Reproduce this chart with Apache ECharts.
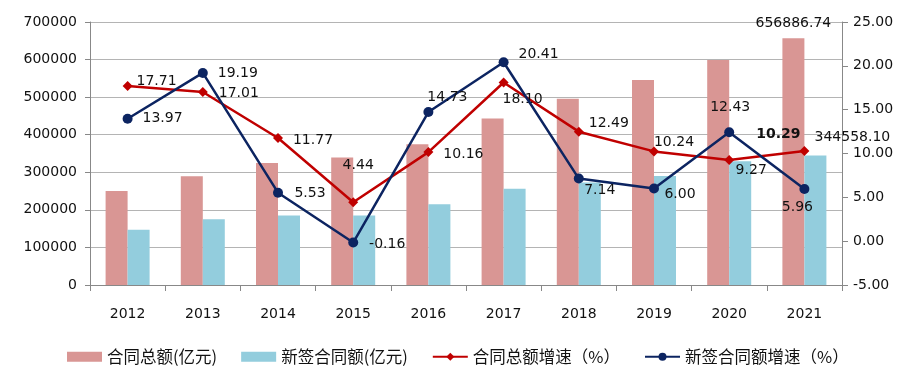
<!DOCTYPE html>
<html>
<head>
<meta charset="utf-8">
<script src="https://cdn.jsdelivr.net/npm/echarts@6/dist/echarts.min.js"></script>
<style>
html,body{margin:0;padding:0;background:#fff;}
#chart{width:924px;height:387px;}
</style>
</head>
<body>
<div id="chart"></div>
<script>
// ---- data ----
var years = ['2012','2013','2014','2015','2016','2017','2018','2019','2020','2021'];
var totalContract = [250200, 289300, 324800, 339200, 374700, 443200, 495500, 545300, 598700, 656886.74];
var newContract = [147200, 174700, 185300, 185300, 214700, 256500, 272900, 290100, 329300, 344558.10];
var totalGrowth = [17.71, 17.01, 11.77, 4.44, 10.16, 18.10, 12.49, 10.24, 9.27, 10.29];
var newGrowth = [13.97, 19.19, 5.53, -0.16, 14.73, 20.41, 7.14, 6.00, 12.43, 5.96];
var seriesNames = ['合同总额(亿元)', '新签合同额(亿元)', '合同总额增速（%）', '新签合同额增速（%）'];

// ---- label placement (style only) ----
var totalGrowthOffsets = [[29,-5],[36,1],[35,2],[5,-37],[35,2],[19,17],[30,-8],[20,-9],[22,10],[-26,-17]];
var newGrowthOffsets = [[35,0],[35,0],[32,1],[34,2],[19,-15],[35,-8],[21,12],[26,6],[1,-25],[-7,18]];

var FONT = 'DejaVu Sans';
var TXT = '#111';

function lineData(vals, offsets, boldIdx) {
  return vals.map(function (v, i) {
    return {
      value: v,
      label: {
        show: true,
        position: 'inside',
        offset: offsets[i],
        formatter: v.toFixed(2),
        fontWeight: i === boldIdx ? 'bold' : 'normal'
      }
    };
  });
}
function barData(vals, offset) {
  return vals.map(function (v, i) {
    var last = i === vals.length - 1;
    return {
      value: v,
      label: {
        show: last,
        position: 'top',
        distance: 5,
        offset: offset,
        formatter: v.toFixed(2)
      }
    };
  });
}

var chart = echarts.init(document.getElementById('chart'), null, {renderer: 'canvas'});
chart.setOption({
  animation: false,
  backgroundColor: '#fff',
  textStyle: {fontFamily: FONT, color: TXT},
  grid: {left: 90, right: 82, top: 22, bottom: 102, containLabel: false},
  legend: {
    bottom: 17,
    left: 62,
    itemWidth: 35,
    itemHeight: 10,
    itemGap: 24,
    textStyle: {fontFamily: 'Noto Sans CJK SC', fontSize: 16.5, color: TXT},
    data: [
      {name: seriesNames[0], icon: 'rect'},
      {name: seriesNames[1], icon: 'rect'},
      {name: seriesNames[2]},
      {name: seriesNames[3]}
    ]
  },
  xAxis: {
    type: 'category',
    data: years,
    boundaryGap: true,
    axisLine: {lineStyle: {color: '#888', width: 1}},
    axisTick: {show: true, length: 6, lineStyle: {color: '#888'}},
    axisLabel: {margin: 22, fontFamily: FONT, fontSize: 14, color: TXT}
  },
  yAxis: [
    {
      type: 'value',
      min: 0, max: 700000, interval: 100000,
      axisLine: {show: true, lineStyle: {color: '#888'}},
      axisTick: {show: true, length: 5, lineStyle: {color: '#888'}},
      axisLabel: {margin: 13, fontFamily: FONT, fontSize: 14, color: TXT,
        formatter: function (v) { return String(v); }},
      splitLine: {show: true, lineStyle: {color: '#b4b4b4', width: 1}}
    },
    {
      type: 'value',
      min: -5, max: 25, interval: 5,
      axisLine: {show: true, lineStyle: {color: '#888'}},
      axisTick: {show: true, length: 6, lineStyle: {color: '#888'}},
      axisLabel: {margin: 11, fontFamily: FONT, fontSize: 14, color: TXT,
        formatter: function (v) { return v.toFixed(2); }},
      splitLine: {show: false}
    }
  ],
  series: [
    {
      name: seriesNames[0], type: 'bar', yAxisIndex: 0,
      barWidth: 22, barGap: '0%',
      itemStyle: {color: '#d99694'},
      label: {fontFamily: FONT, fontSize: 14, color: TXT},
      data: barData(totalContract, [0, -3])
    },
    {
      name: seriesNames[1], type: 'bar', yAxisIndex: 0,
      barWidth: 22, barGap: '0%',
      itemStyle: {color: '#93cddd'},
      label: {fontFamily: FONT, fontSize: 14, color: TXT},
      data: barData(newContract, [37, -6])
    },
    {
      name: seriesNames[2], type: 'line', yAxisIndex: 1,
      symbol: 'diamond', symbolSize: 10,
      lineStyle: {color: '#c00000', width: 2.5},
      itemStyle: {color: '#c00000'},
      label: {fontFamily: FONT, fontSize: 14, color: TXT},
      z: 3,
      data: lineData(totalGrowth, totalGrowthOffsets, 9)
    },
    {
      name: seriesNames[3], type: 'line', yAxisIndex: 1,
      symbol: 'circle', symbolSize: 10,
      lineStyle: {color: '#0c2461', width: 2.5},
      itemStyle: {color: '#0c2461'},
      label: {fontFamily: FONT, fontSize: 14, color: TXT},
      z: 4,
      data: lineData(newGrowth, newGrowthOffsets, -1)
    }
  ]
});
</script>
</body>
</html>
